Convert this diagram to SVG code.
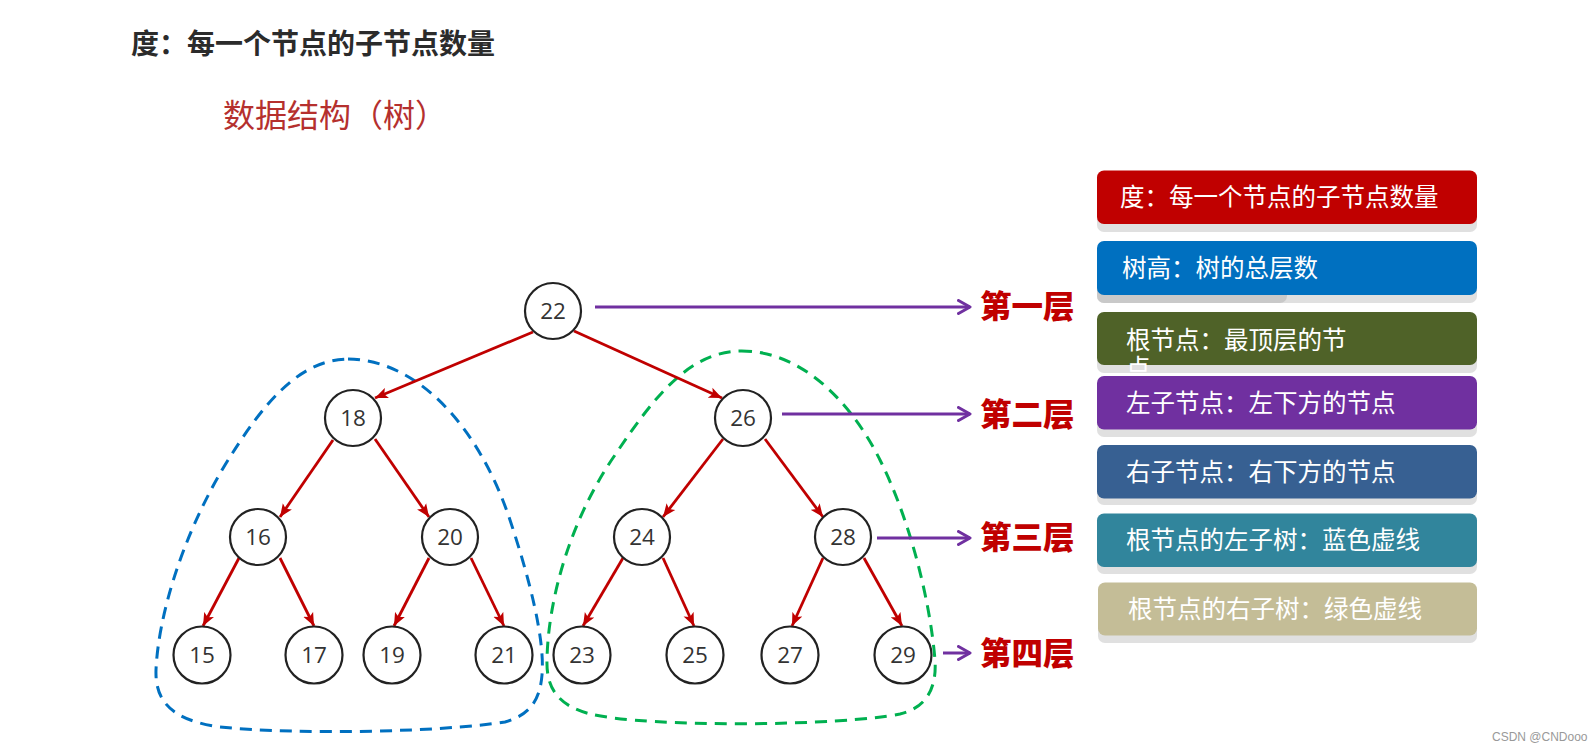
<svg xmlns="http://www.w3.org/2000/svg" width="1591" height="751" viewBox="0 0 1591 751">
<defs>
<marker id="redArrow" markerUnits="userSpaceOnUse" markerWidth="14" markerHeight="12" refX="13" refY="6" orient="auto">
<path d="M0,0.5 L13,6 L0,11.5 L3,6 Z" fill="#C00000"/>
</marker>
<marker id="purpleArrow" markerUnits="userSpaceOnUse" markerWidth="16" markerHeight="16" refX="13" refY="8" orient="auto">
<path d="M1.5,1.5 L13,8 L1.5,14.5" fill="none" stroke="#7030A0" stroke-width="3" stroke-linecap="round" stroke-linejoin="round"/>
</marker>
</defs>
<style>
.node circle{fill:#fff;stroke:#222;stroke-width:2.2}
.node text{font-family:"Open Sans","Noto Sans",sans-serif;font-size:22.5px;fill:#333;text-anchor:middle}
.edge{stroke:#C00000;stroke-width:2.8;fill:none;marker-end:url(#redArrow)}
.level{stroke:#7030A0;stroke-width:3;fill:none;marker-end:url(#purpleArrow)}
.lvltext{font-family:"Noto Sans CJK SC",sans-serif;font-weight:900;font-size:31.5px;fill:#C00000}
.box text{font-family:"Noto Sans CJK SC",sans-serif;font-size:24.5px;fill:#fff}
.shadow{fill:#e0e0e0}
</style>
<rect width="1591" height="751" fill="#fff"/>
<text x="131" y="54" font-family="Noto Sans CJK SC, sans-serif" font-weight="700" font-size="28" fill="#2b2b2b">度：每一个节点的子节点数量</text>
<text x="223" y="127" font-family="Noto Sans CJK SC, sans-serif" font-size="32" fill="#B5302E">数据结构（树）</text>
<g id="subtrees">
<path d="M 348 359 C 420 360, 480 430, 510 520 C 530 580, 545 640, 542 675 C 540 700, 530 715, 505 722 C 440 732, 300 735, 220 727 C 170 720, 155 700, 156 670 C 158 620, 180 540, 225 465 C 265 400, 300 360, 348 359 Z" fill="none" stroke="#0070C0" stroke-width="3" stroke-dasharray="12 8"/>
<path d="M 740 351 C 800 350, 850 400, 880 460 C 910 520, 930 600, 935 660 C 937 690, 925 708, 900 714 C 840 726, 650 728, 590 714 C 560 706, 546 690, 547 660 C 548 600, 570 520, 615 455 C 655 395, 690 352, 740 351 Z" fill="none" stroke="#00B050" stroke-width="3" stroke-dasharray="12 8"/>
</g>
<g id="connectors">
<line class="edge" x1="533" y1="332" x2="375" y2="398"/>
<line class="edge" x1="574" y1="331" x2="722" y2="398"/>
<line class="edge" x1="333" y1="440" x2="280" y2="517"/>
<line class="edge" x1="375" y1="439" x2="429" y2="517"/>
<line class="edge" x1="239" y1="558" x2="203" y2="626"/>
<line class="edge" x1="280" y1="558" x2="314" y2="626"/>
<line class="edge" x1="429" y1="558" x2="394" y2="626"/>
<line class="edge" x1="471" y1="558" x2="504" y2="626"/>
<line class="edge" x1="723" y1="439" x2="663" y2="517"/>
<line class="edge" x1="765" y1="439" x2="823" y2="517"/>
<line class="edge" x1="623" y1="558" x2="583" y2="626"/>
<line class="edge" x1="663" y1="558" x2="694" y2="626"/>
<line class="edge" x1="823" y1="558" x2="792" y2="626"/>
<line class="edge" x1="864" y1="558" x2="902" y2="626"/>
<line class="level" x1="595" y1="307" x2="970" y2="307"/>
<line class="level" x1="782" y1="414" x2="970" y2="414"/>
<line class="level" x1="877" y1="538" x2="970" y2="538"/>
<line class="level" x1="943" y1="653" x2="970" y2="653"/>
</g>
<g id="n22" class="node"><circle cx="553" cy="311" r="28"/><text x="553" y="319">22</text></g>
<g id="n18" class="node"><circle cx="353" cy="418" r="28"/><text x="353" y="426">18</text></g>
<g id="n26" class="node"><circle cx="743" cy="418" r="28"/><text x="743" y="426">26</text></g>
<g id="n16" class="node"><circle cx="258" cy="537" r="28"/><text x="258" y="545">16</text></g>
<g id="n20" class="node"><circle cx="450" cy="537" r="28"/><text x="450" y="545">20</text></g>
<g id="n24" class="node"><circle cx="642" cy="537" r="28"/><text x="642" y="545">24</text></g>
<g id="n28" class="node"><circle cx="843" cy="537" r="28"/><text x="843" y="545">28</text></g>
<g id="n15" class="node"><circle cx="202" cy="655" r="28.5"/><text x="202" y="663">15</text></g>
<g id="n17" class="node"><circle cx="314" cy="655" r="28.5"/><text x="314" y="663">17</text></g>
<g id="n19" class="node"><circle cx="392" cy="655" r="28.5"/><text x="392" y="663">19</text></g>
<g id="n21" class="node"><circle cx="504" cy="655" r="28.5"/><text x="504" y="663">21</text></g>
<g id="n23" class="node"><circle cx="582" cy="655" r="28.5"/><text x="582" y="663">23</text></g>
<g id="n25" class="node"><circle cx="695" cy="655" r="28.5"/><text x="695" y="663">25</text></g>
<g id="n27" class="node"><circle cx="790" cy="655" r="28.5"/><text x="790" y="663">27</text></g>
<g id="n29" class="node"><circle cx="903" cy="655" r="28.5"/><text x="903" y="663">29</text></g>
<g id="levels">
<text class="lvltext" x="980" y="318">第一层</text>
<text class="lvltext" x="980" y="426">第二层</text>
<text class="lvltext" x="980" y="549">第三层</text>
<text class="lvltext" x="980" y="665">第四层</text>
</g>
<g id="box1" class="box">
<rect class="shadow" x="1097" y="178" width="380" height="54" rx="7"/>
<rect x="1097" y="170.5" width="380" height="53.5" rx="7" fill="#C00000"/>
<text x="1120" y="206">度：每一个节点的子节点数量</text>
</g>
<g id="box2" class="box">
<rect class="shadow" x="1097" y="249" width="380" height="54" rx="7"/>
<rect x="1097" y="249" width="190" height="54" rx="7" fill="#c9c9c9"/>
<rect x="1097" y="241" width="380" height="54" rx="7" fill="#0070C0"/>
<text x="1122" y="277">树高：树的总层数</text>
</g>
<g id="box3" class="box">
<rect class="shadow" x="1097" y="320" width="380" height="53" rx="7"/>
<rect x="1097" y="312" width="380" height="53" rx="7" fill="#4F6228"/>
<text x="1126" y="349">根节点：最顶层的节</text>
<text x="1126" y="377">点</text>
</g>
<g id="box4" class="box">
<rect class="shadow" x="1097" y="384" width="380" height="53" rx="7"/>
<rect x="1097" y="376" width="380" height="53.5" rx="7" fill="#7030A0"/>
<text x="1126" y="412">左子节点：左下方的节点</text>
</g>
<g id="box5" class="box">
<rect class="shadow" x="1097" y="452" width="380" height="53" rx="7"/>
<rect x="1097" y="445" width="380" height="53.5" rx="7" fill="#376092"/>
<text x="1126" y="481">右子节点：右下方的节点</text>
</g>
<g id="box6" class="box">
<rect class="shadow" x="1097" y="521" width="380" height="53" rx="7"/>
<rect x="1097" y="513.5" width="380" height="53.5" rx="7" fill="#31859C"/>
<text x="1126" y="549">根节点的左子树：蓝色虚线</text>
</g>
<g id="box7" class="box">
<rect class="shadow" x="1098" y="590" width="379" height="53" rx="7"/>
<rect x="1098" y="582.5" width="379" height="53" rx="7" fill="#C4BD97"/>
<text x="1128" y="618" fill="#f8f8f2">根节点的右子树：绿色虚线</text>
</g>
<text x="1492" y="741" font-family="Liberation Sans, Arial, sans-serif" font-size="12" fill="#999">CSDN @CNDooo</text>
</svg>
